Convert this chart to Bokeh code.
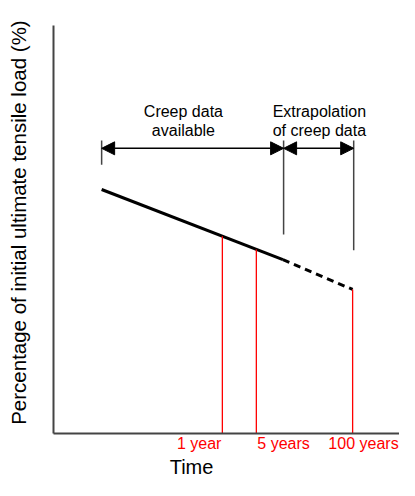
import numpy as np
from bokeh.plotting import figure
from bokeh.models import Arrow, NormalHead, FixedTicker, Range1d
from bokeh.core.properties import value
from bokeh.embed import file_html
from bokeh.resources import INLINE

# Schematic data (arbitrary axis units: time 0-100, load 0-100)
measured_time = [13.6, 64.8]
measured_load = [59.8, 42.6]
extrap_time = [64.8, 84.5]
extrap_load = [42.6, 35.3]

event_labels = ["1 year", "5 years", "100 years"]
event_time = [47.7, 57.3, 84.5]

phase_line1 = ["Creep data", "Extrapolation"]
phase_line2 = ["available", "of creep data"]
phase_text_x = [36.7, 75.1]
phase_start = [13.6, 65.0]
phase_end = [65.0, 84.8]
boundary_time = [13.6, 65.0, 84.8]
boundary_bottom = [65.9, 48.8, 44.9]
boundary_top = 71.8
arrow_level = 69.9

FONT = "Liberation Sans"
W, H = 399, 480

p = figure(width=W, height=H, output_backend="svg", toolbar_location=None,
           x_range=Range1d(-14.97, 97.74), y_range=Range1d(-11.52, 106.13),
           min_border=0)
p.outline_line_color = None
p.grid.visible = False
p.background_fill_color = "white"

for ax in (p.xaxis, p.yaxis):
    ax.fixed_location = 0
    ax.ticker = FixedTicker(ticks=[])
    ax.axis_line_color = "#444444"
    ax.axis_line_width = 2
    ax.major_tick_line_color = None
    ax.minor_tick_line_color = None
    ax.major_label_standoff = 0
    ax.major_tick_out = 0
    ax.major_tick_in = 0
    ax.minor_tick_out = 0
p.xaxis.bounds = (0, 100)
p.yaxis.bounds = (0, 100)

# main curve: measured (solid) and extrapolated (dashed)
all_t = measured_time + extrap_time[1:]
all_l = measured_load + extrap_load[1:]
p.line(measured_time, measured_load, line_color="black", line_width=3)
p.line(extrap_time, extrap_load, line_color="black", line_width=3, line_dash="7 5")

# red event lines up to the curve
tops = np.interp(event_time, all_t, all_l)
p.segment(x0=event_time, y0=[0] * 3, x1=event_time, y1=list(tops),
          line_color="red", line_width=1.3)

# gray boundary lines
p.segment(x0=boundary_time, y0=boundary_bottom, x1=boundary_time,
          y1=[boundary_top] * 3, line_color="#444444", line_width=1.5)

# double-headed arrows
for s, e in zip(phase_start, phase_end):
    p.add_layout(Arrow(x_start=s, y_start=arrow_level, x_end=e, y_end=arrow_level,
                       line_color="black", line_width=1.5,
                       start=NormalHead(size=13, fill_color="black", line_color="black"),
                       end=NormalHead(size=13, fill_color="black", line_color="black")))

# phase texts
p.text(x=phase_text_x, y=[78.9] * 2, text=phase_line1, text_align="center",
       text_baseline="middle", text_font=value(FONT), text_font_size="16px",
       text_color="black")
p.text(x=phase_text_x, y=[74.3] * 2, text=phase_line2, text_align="center",
       text_baseline="middle", text_font=value(FONT), text_font_size="16px",
       text_color="black")

# event labels (red) under the time axis
p.text(x=event_time, y=[-2.5] * 3, text=event_labels,
       text_align=["right", "left", "right"], x_offset=[-1, 1, 46],
       text_baseline="middle", text_font=value(FONT), text_font_size="16px",
       text_color="red")

# axis titles
p.text(x=[39.0], y=[-8.2], text=["Time"], text_align="center",
       text_baseline="middle", text_font=value(FONT), text_font_size="20px",
       text_color="black")
p.text(x=[-9.9], y=[51.7], text=["Percentage of initial ultimate tensile load (%)"],
       angle=np.pi / 2, text_align="center", text_baseline="middle",
       text_font=value(FONT), text_font_size="20.5px", text_color="black")

open("out.html", "w").write(file_html(p, INLINE))
